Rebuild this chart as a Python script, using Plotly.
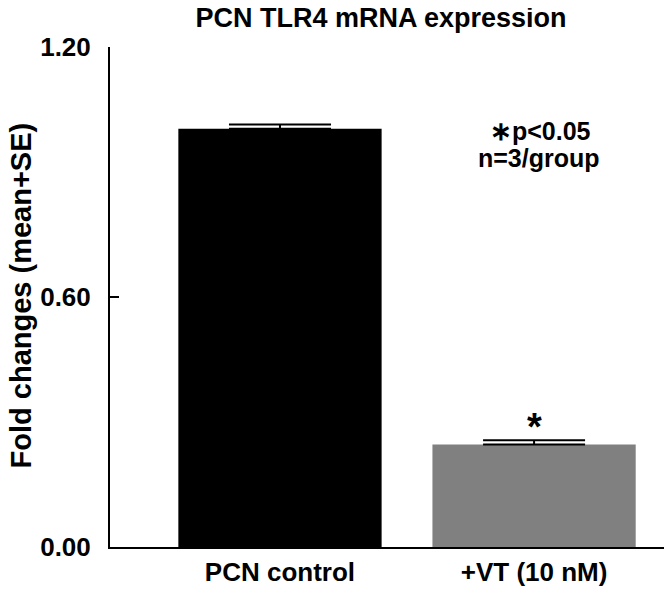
import plotly.graph_objects as go

# Data
groups = ["PCN control", "+VT (10 nM)"]
positions = [0, 1]
means = [1.004, 0.246]
se = [0.010, 0.010]
bar_colors = ["#000000", "#808080"]

y_ticks = [0.0, 0.6, 1.2]
y_ticktext = ["0.00", "0.60", "1.20"]

FONT = "Liberation Sans, Arial, sans-serif"

# page body adds an 8px offset, so the figure is 8px smaller than the window
W, H = 664, 581

fig = go.Figure()
fig.add_trace(go.Bar(
    x=positions, y=means, width=0.8,
    marker=dict(color=bar_colors, line=dict(width=0)),
    error_y=dict(type="data", symmetric=False, array=se, arrayminus=[0, 0],
                 color="black", thickness=2, width=51),
    showlegend=False,
))

# significance star above treated bar
fig.add_annotation(x=positions[1], y=means[1] + se[1], yref="y", xref="x",
                   text="<b>*</b>", showarrow=False, yanchor="bottom", yshift=-10,
                   font=dict(family=FONT, size=38, color="black"))

fig.add_annotation(x=0.768, y=0.833, xref="paper", yref="paper",
                   xanchor="center", yanchor="middle",
                   text="<b><span style='font-size:26px'>\u2217</span>p<0.05</b>",
                   showarrow=False, font=dict(family=FONT, size=25, color="black"))
fig.add_annotation(x=0.766, y=0.779, xref="paper", yref="paper",
                   xanchor="center", yanchor="middle",
                   text="<b>n=3/group</b>",
                   showarrow=False, font=dict(family=FONT, size=25, color="black"))

# y-axis title as annotation so it sits left of the tick labels
fig.add_annotation(x=-0.159, y=0.503, xref="paper", yref="paper",
                   xanchor="center", yanchor="middle",
                   text="<b>Fold changes (mean+SE)</b>", textangle=-90,
                   showarrow=False, font=dict(family=FONT, size=29, color="black"))

fig.update_layout(
    width=W, height=H,
    margin=dict(l=102, r=2, t=39, b=39),
    plot_bgcolor="white", paper_bgcolor="white",
    title=dict(text="<b>PCN TLR4 mRNA expression</b>", x=373 / W, xanchor="center",
               y=1 - 10 / H, yanchor="middle",
               font=dict(family=FONT, size=27, color="black")),
    font=dict(family=FONT, color="black"),
)
fig.update_xaxes(range=[-0.669, 1.535], tickvals=positions,
                 ticktext=["<b>%s</b>" % g for g in groups],
                 tickfont=dict(size=26), ticks="", ticklabelstandoff=1,
                 showgrid=False, zeroline=False,
                 showline=True, linecolor="black", linewidth=2)
fig.update_yaxes(range=[0, 1.2], tickvals=y_ticks,
                 ticktext=["<b>%s</b>" % t for t in y_ticktext],
                 tickfont=dict(size=26), ticks="inside", ticklen=9, tickwidth=2,
                 tickcolor="black", ticklabelstandoff=12,
                 showgrid=False, zeroline=False, showline=True, linecolor="black",
                 linewidth=2)

fig.write_html("out.html")
